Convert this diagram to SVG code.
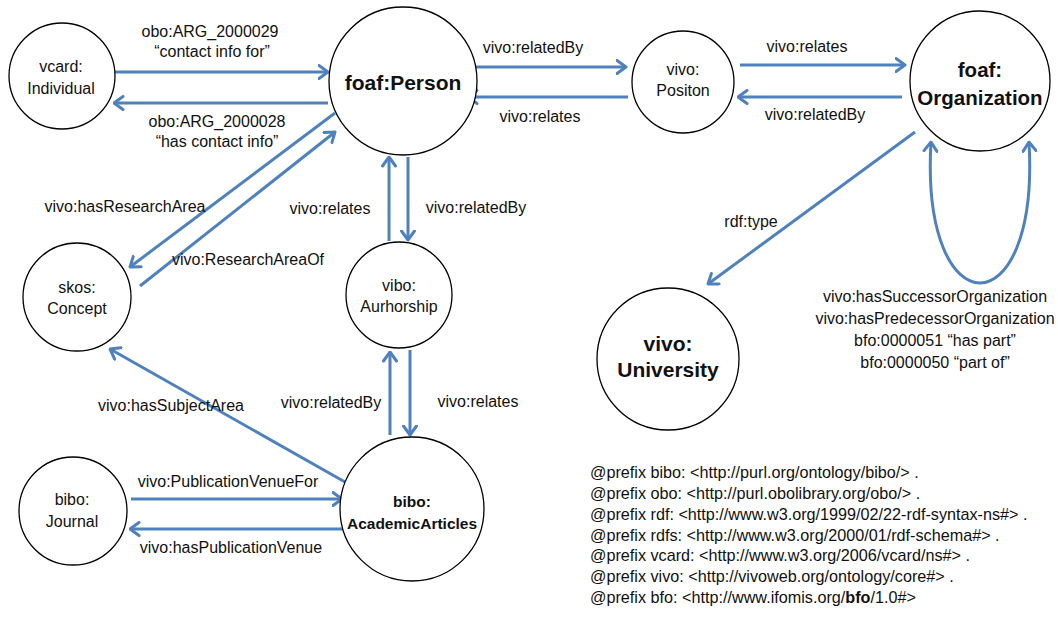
<svg xmlns="http://www.w3.org/2000/svg" width="1058" height="618" viewBox="0 0 1058 618">
  <style>
    .node circle { fill: #ffffff; stroke: #000000; stroke-width: 1.3; }
    text { font-family: "Liberation Sans", Arial, sans-serif; fill: #111111; }
    .n { font-size: 16px; text-anchor: middle; }
    .b { font-weight: bold; text-anchor: middle; }
    .lbl { font-size: 16px; text-anchor: middle; }
    .pre { font-size: 16.2px; }
    .edge { fill: none; stroke: #4F81BD; stroke-width: 3; marker-end: url(#arr); }
  </style>
  <defs>
    <marker id="arr" viewBox="0 0 12 16" refX="10.5" refY="8" markerWidth="12" markerHeight="16" markerUnits="userSpaceOnUse" orient="auto-start-reverse">
      <path d="M1.5 1.5 L10.5 8 L1.5 14.5" fill="none" stroke="#4F81BD" stroke-width="3" stroke-linecap="round" stroke-linejoin="round"/>
    </marker>
  </defs>

  <rect width="1058" height="618" fill="#ffffff"/>

  <!-- connectors -->
  <g id="connectors">
    <path class="edge" d="M115 72 L328 72"/>
    <path class="edge" d="M328 103 L114 103"/>
    <path class="edge" d="M335 113 L130 267"/>
    <path class="edge" d="M140 286 L335 132"/>
    <path class="edge" d="M468 67 L626 67"/>
    <path class="edge" d="M628 97 L468 97"/>
    <path class="edge" d="M740 65 L905 65"/>
    <path class="edge" d="M902 97 L738 97"/>
    <path class="edge" d="M389 241 L389 157"/>
    <path class="edge" d="M408 157 L408 240"/>
    <path class="edge" d="M915 132 L708 284"/>
    <path class="edge" d="M931 142 C920 330 1040 330 1029 142" marker-start="url(#arr)"/>
    <path class="edge" d="M390 435 L390 352"/>
    <path class="edge" d="M410 350 L410 435"/>
    <path class="edge" d="M345 482 L110 349"/>
    <path class="edge" d="M131 499 L342 499"/>
    <path class="edge" d="M343 529 L130 529"/>
  </g>

  <!-- connector labels -->
  <g id="edge-labels" class="lbl">
    <text class="lbl" x="210" y="37">obo:ARG_2000029</text>
    <text class="lbl" x="212" y="57">“contact info for”</text>
    <text class="lbl" x="217" y="127">obo:ARG_2000028</text>
    <text class="lbl" x="217" y="147">“has contact info”</text>
    <text class="lbl" x="533" y="53">vivo:relatedBy</text>
    <text class="lbl" x="540" y="122">vivo:relates</text>
    <text class="lbl" x="807" y="52">vivo:relates</text>
    <text class="lbl" x="815" y="120">vivo:relatedBy</text>
    <text class="lbl" x="125" y="212">vivo:hasResearchArea</text>
    <text class="lbl" x="248" y="265">vivo:ResearchAreaOf</text>
    <text class="lbl" x="330" y="214">vivo:relates</text>
    <text class="lbl" x="476" y="213">vivo:relatedBy</text>
    <text class="lbl" x="751" y="227">rdf:type</text>
    <text class="lbl" x="171" y="411">vivo:hasSubjectArea</text>
    <text class="lbl" x="331" y="408">vivo:relatedBy</text>
    <text class="lbl" x="478" y="407">vivo:relates</text>
    <text class="lbl" x="228" y="487">vivo:PublicationVenueFor</text>
    <text class="lbl" x="231" y="553">vivo:hasPublicationVenue</text>
    <text class="lbl" x="935" y="302">vivo:hasSuccessorOrganization</text>
    <text class="lbl" x="935" y="324">vivo:hasPredecessorOrganization</text>
    <text class="lbl" x="935" y="346">bfo:0000051 “has part”</text>
    <text class="lbl" x="935" y="368">bfo:0000050 “part of”</text>
  </g>

  <!-- nodes -->
  <g id="vcard-individual" class="node">
    <circle cx="62" cy="76" r="53"/>
    <text class="n" x="61" y="72">vcard:</text>
    <text class="n" x="61" y="94">Individual</text>
  </g>
  <g id="foaf-person" class="node">
    <circle cx="403" cy="81" r="74"/>
    <text class="b" x="403" y="90" font-size="21">foaf:Person</text>
  </g>
  <g id="vivo-position" class="node">
    <circle cx="683" cy="82" r="51"/>
    <text class="n" x="683" y="75">vivo:</text>
    <text class="n" x="683" y="96">Positon</text>
  </g>
  <g id="foaf-organization" class="node">
    <circle cx="980" cy="81" r="70"/>
    <text class="b" x="980" y="77" font-size="20.5">foaf:</text>
    <text class="b" x="980" y="105" font-size="20.5">Organization</text>
  </g>
  <g id="skos-concept" class="node">
    <circle cx="77" cy="297" r="54"/>
    <text class="n" x="77" y="293">skos:</text>
    <text class="n" x="77" y="314">Concept</text>
  </g>
  <g id="vibo-authorship" class="node">
    <circle cx="399" cy="295" r="53"/>
    <text class="n" x="399" y="291">vibo:</text>
    <text class="n" x="399" y="312">Aurhorship</text>
  </g>
  <g id="vivo-university" class="node">
    <circle cx="668" cy="359" r="71"/>
    <text class="b" x="668" y="351" font-size="21">vivo:</text>
    <text class="b" x="668" y="377" font-size="21">University</text>
  </g>
  <g id="bibo-journal" class="node">
    <circle cx="73" cy="511" r="54"/>
    <text class="n" x="72" y="505">bibo:</text>
    <text class="n" x="72" y="527">Journal</text>
  </g>
  <g id="bibo-academic-articles" class="node">
    <circle cx="412" cy="509" r="72"/>
    <text class="b" x="412" y="507" font-size="15.5">bibo:</text>
    <text class="b" x="412" y="529" font-size="15.5">AcademicArticles</text>
  </g>

  <!-- namespace prefixes -->
  <g id="prefixes" class="pre">
    <text class="pre" x="590" y="478">@prefix bibo: &lt;http://purl.org/ontology/bibo/&gt; .</text>
    <text class="pre" x="590" y="499">@prefix obo: &lt;http://purl.obolibrary.org/obo/&gt; .</text>
    <text class="pre" x="590" y="520">@prefix rdf: &lt;http://www.w3.org/1999/02/22-rdf-syntax-ns#&gt; .</text>
    <text class="pre" x="590" y="541">@prefix rdfs: &lt;http://www.w3.org/2000/01/rdf-schema#&gt; .</text>
    <text class="pre" x="590" y="561">@prefix vcard: &lt;http://www.w3.org/2006/vcard/ns#&gt; .</text>
    <text class="pre" x="590" y="582">@prefix vivo: &lt;http://vivoweb.org/ontology/core#&gt; .</text>
    <text class="pre" x="590" y="603">@prefix bfo: &lt;http://www.ifomis.org/<tspan font-weight="bold">bfo</tspan>/1.0#&gt;</text>
  </g>
</svg>
